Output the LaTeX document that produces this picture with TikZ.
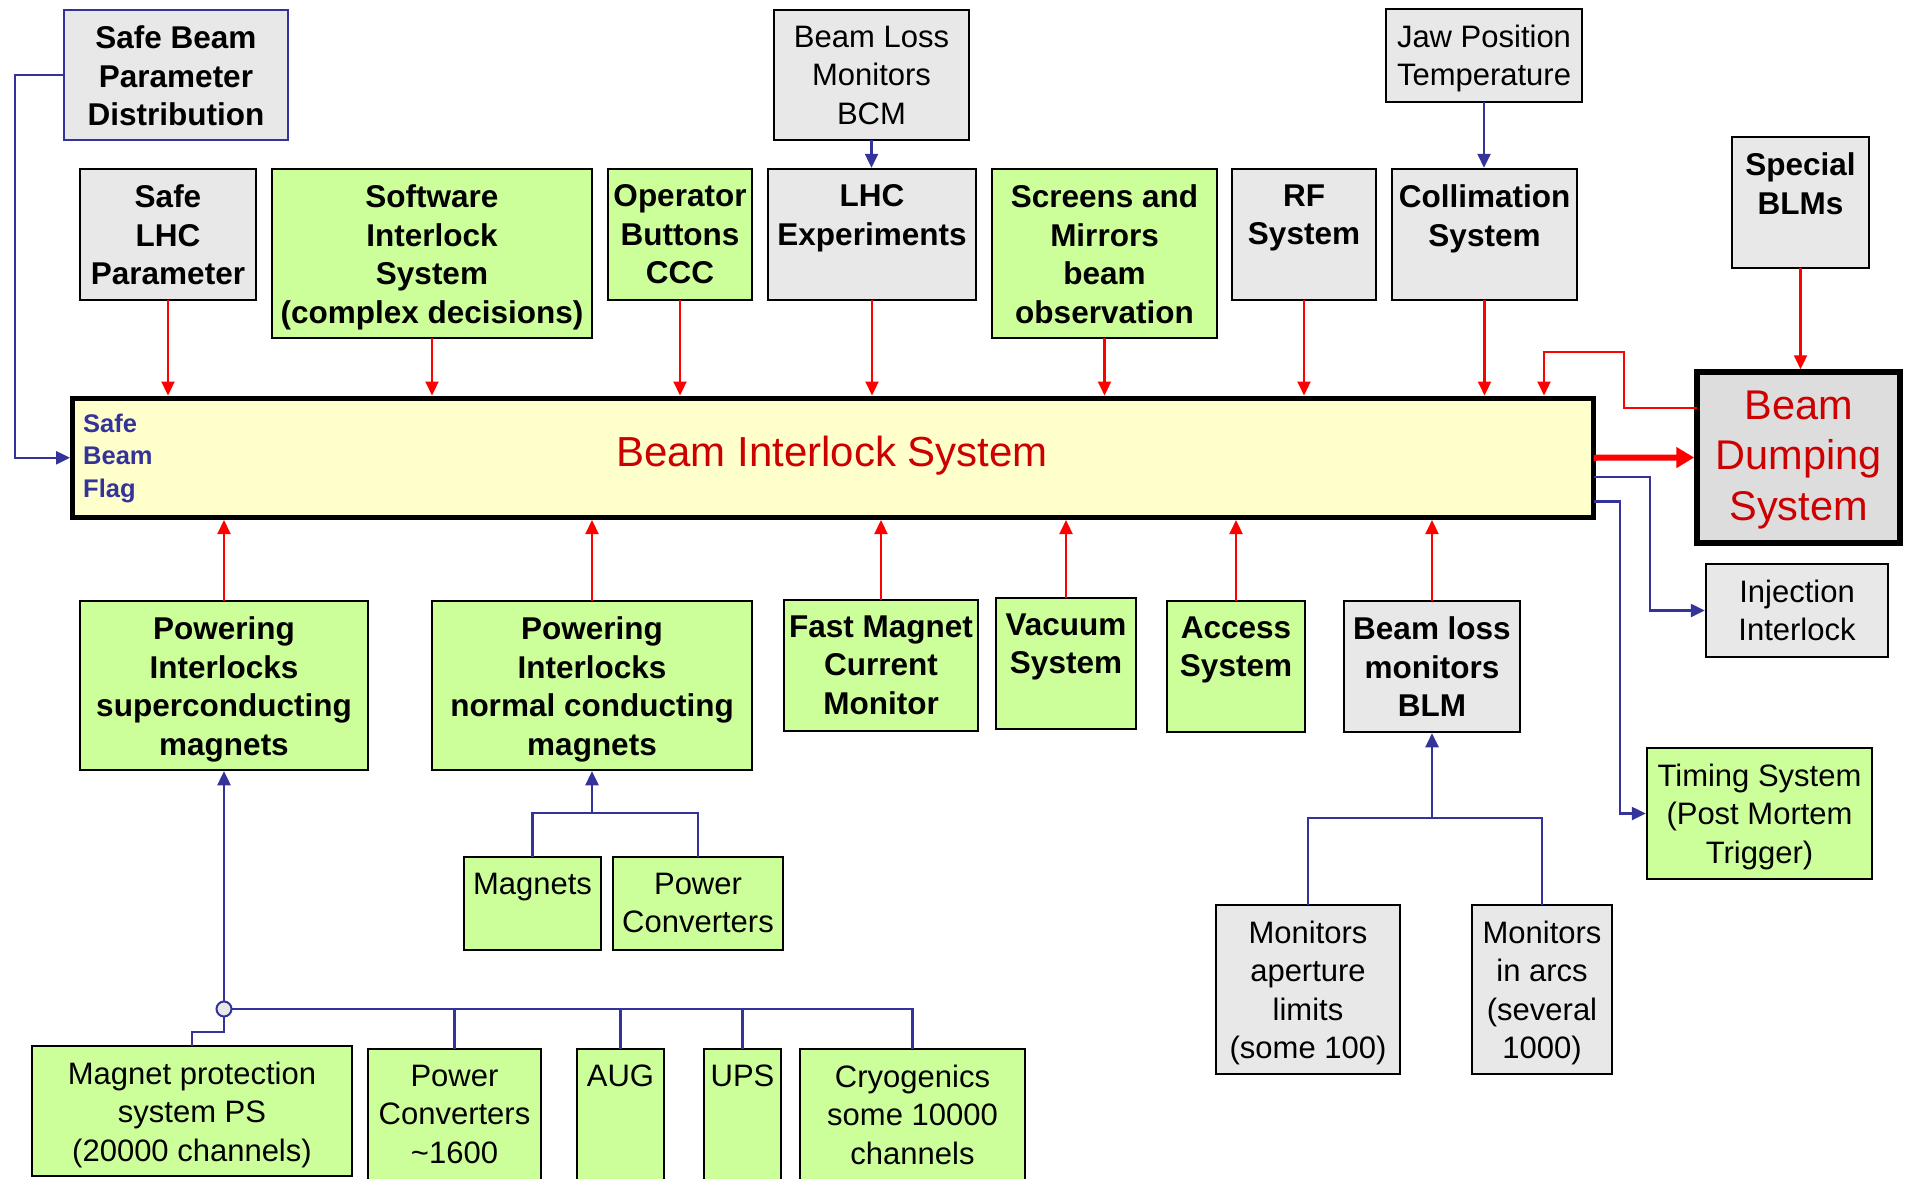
\documentclass[tikz,border=0pt]{standalone}
\usepackage{fontspec}
\setmainfont{Liberation Sans}
\usetikzlibrary{arrows.meta}
\definecolor{grn}{HTML}{CCFF99}
\definecolor{gry}{HTML}{E8E8E8}
\definecolor{ylw}{HTML}{FFFFCC}
\definecolor{dmp}{HTML}{DDDDDD}
\definecolor{blu}{HTML}{333399}
\definecolor{dred}{HTML}{CC0000}
\definecolor{rd}{HTML}{FF0000}
\newcommand\bx[8]{%
  \node[#1, minimum width={(#5)-(#3)}, minimum height={(#6)-(#4)}] (#2) at ({((#3)+(#5))/2},{((#4)+(#6))/2}) {};
  \node[#7, anchor=north] (#2t) at ([yshift=-15.5pt]#2.north) {#8};}
\tikzset{
  boxbase/.style={line width=2.5pt, inner sep=0pt, outer sep=0pt, rectangle},
  gbox/.style={boxbase, draw=black, fill=grn},
  ybox/.style={boxbase, draw=black, fill=gry},
  bbox/.style={boxbase, draw=blu, fill=gry},
  bt/.style={font=\fontsize{31.5}{38.5}\selectfont\bfseries, align=center, inner sep=0pt},
  rt/.style={font=\fontsize{31}{38.5}\selectfont, align=center, inner sep=0pt},
  rarr/.style={draw=rd, line width=2.2pt, -{Triangle[length=14pt,width=13pt]}},
  barr/.style={draw=blu, line width=2.5pt, -{Triangle[length=14pt,width=13pt]}},
  bln/.style={draw=blu, line width=2.5pt},
  fatarr/.style={draw=rd, line width=6pt, -{Triangle[length=18pt,width=20pt]}},
  hubst/.style={circle, draw=blu, line width=2pt, fill=gry, minimum size=15pt, inner sep=0pt, outer sep=0pt},
}
\begin{document}
\begin{tikzpicture}[x=1pt,y=-1pt]
\useasboundingbox (0,0) rectangle (1905,1178);
\clip (0,0) rectangle (1905,1178);
\fill[white] (0,0) rectangle (1905,1178);

% main bars
\node[draw=black, fill=ylw, line width=5pt, inner sep=0pt, outer sep=0pt, minimum width=1521pt, minimum height=119.5pt] (bis) at (833,457.75) {};
\node[font=\fontsize{42}{50}\selectfont, text=dred, anchor=base, inner sep=0pt] (bist) at (832,466) {Beam Interlock System};
\node[font=\fontsize{25.5}{32.5}\selectfont\bfseries, text=blu, align=left, anchor=north west, inner sep=0pt] (sbf) at (83,413.5) {Safe\\Beam\\Flag};
\node[draw=black, fill=dmp, line width=5.5pt, inner sep=0pt, outer sep=0pt, minimum width=203pt, minimum height=171pt] (bds) at (1798.5,457.5) {};
\node[font=\fontsize{41.5}{50.5}\selectfont, text=dred, align=center, anchor=north, inner sep=0pt] (bdst) at ([yshift=-18.5pt]bds.north) {Beam\\Dumping\\System};

% top boxes
\bx{bbox}{sbpd}{64}{10}{288}{140}{bt}{Safe Beam\\Parameter\\Distribution}
\bx{ybox}{bcm}{774}{10}{969}{140}{rt}{Beam Loss\\Monitors\\BCM}
\bx{ybox}{jaw}{1386}{9}{1582}{102}{rt}{Jaw Position\\Temperature}
\bx{ybox}{slhc}{80}{169}{256}{300}{bt}{Safe\\LHC\\Parameter}
\bx{gbox}{sis}{272}{169}{592}{338}{bt}{Software\\Interlock\\System\\(complex decisions)}
\bx{gbox}{opb}{608}{169}{752}{300}{bt}{Operator\\Buttons\\CCC}
\bx{ybox}{lhce}{768}{169}{976}{300}{bt}{LHC\\Experiments}
\bx{gbox}{scr}{992}{169}{1217}{338}{bt}{Screens and\\Mirrors\\beam\\observation}
\bx{ybox}{rf}{1232}{169}{1376}{300}{bt}{RF\\System}
\bx{ybox}{col}{1392}{169}{1577}{300}{bt}{Collimation\\System}
\bx{ybox}{sblm}{1732}{137}{1869}{268}{bt}{Special\\BLMs}

% lower boxes
\bx{gbox}{pis}{80}{601}{368}{770}{bt}{Powering\\Interlocks\\superconducting\\magnets}
\bx{gbox}{pin}{432}{601}{752}{770}{bt}{Powering\\Interlocks\\normal conducting\\magnets}
\bx{gbox}{fmc}{784}{600}{978}{731}{bt}{Fast Magnet\\Current\\Monitor}
\bx{gbox}{vac}{996}{598}{1136}{729}{bt}{Vacuum\\System}
\bx{gbox}{acc}{1167}{601}{1305}{732}{bt}{Access\\System}
\bx{ybox}{blm}{1344}{601}{1520}{732}{bt}{Beam loss\\monitors\\BLM}
\bx{ybox}{inj}{1706}{564}{1888}{657}{rt}{Injection\\Interlock}
\bx{gbox}{tim}{1647}{748}{1872}{879}{rt}{Timing System\\(Post Mortem\\Trigger)}
\bx{gbox}{mag}{464}{857}{601}{950}{rt}{Magnets}
\bx{gbox}{pca}{613}{857}{783}{950}{rt}{Power\\Converters}
\bx{ybox}{mona}{1216}{905}{1400}{1074}{rt}{Monitors\\aperture\\limits\\(some 100)}
\bx{ybox}{monb}{1472}{905}{1612}{1074}{rt}{Monitors\\in arcs\\(several\\1000)}
\bx{gbox}{mp}{32}{1046}{352}{1176}{rt}{Magnet protection\\system PS\\(20000 channels)}
\bx{gbox}{pcb}{368}{1049}{541}{1195}{rt}{Power\\Converters\\\textasciitilde1600}
\bx{gbox}{aug}{577}{1049}{664}{1195}{rt}{AUG}
\bx{gbox}{ups}{704}{1049}{781}{1195}{rt}{UPS}
\bx{gbox}{cryo}{800}{1049}{1025}{1195}{rt}{Cryogenics\\some 10000\\channels}

% red arrows into BIS from above
\foreach \n in {slhc,sis,opb,lhce,scr,rf,col}
  \draw[rarr, shorten >=2.5pt] (\n.south) -- (\n.south |- bis.north);
% red arrows into BIS from below
\foreach \n in {pis,pin,fmc,vac,acc,blm}
  \draw[rarr, shorten >=2.5pt] (\n.north) -- (\n.north |- bis.south);
% special BLMs to BDS
\draw[rarr, shorten >=2.75pt] (sblm.south) -- (sblm.south |- bds.north);
% fat arrow BIS -> BDS
\draw[fatarr, shorten >=2.75pt] (bis.east) -- (bds.west);
% feedback BDS -> BIS
\coordinate (fba) at (1624,352);
\coordinate (fbb) at (1544,352);
\draw[rarr, shorten >=2.5pt] ([yshift=49.5pt]bds.west) -| (fba) -- (fbb) -- (fbb |- bis.north);

% blue connectors
\draw[barr, shorten >=1.25pt] (bcm.south) -- (bcm.south |- lhce.north);
\draw[barr, shorten >=1.25pt] (jaw.south) -- (jaw.south |- col.north);
\coordinate (sbl) at (15,75);
\draw[barr, shorten >=2.5pt] (sbpd.west) -- (sbl) |- (bis.west);
\coordinate (ibend) at (1650,477);
\draw[barr, shorten >=1.25pt] ([yshift=-19.25pt]bis.east) -- (ibend) |- (inj.west);
\coordinate (tbend) at (1620,501.25);
\draw[barr, shorten >=1.25pt] ([yshift=-43.5pt]bis.east) -- (tbend) |- (tim.west);
\coordinate (jn) at (592,813);
\draw[bln] (mag.north) |- (jn) -| (pca.north);
\draw[barr, shorten >=1.25pt] (jn) -- (pin.south);
\coordinate (jb) at (1432,818);
\draw[bln] (mona.north) |- (jb) -| (monb.north);
\draw[barr, shorten >=1.25pt] (jb) -- (blm.south);
% bottom bus
\coordinate (hubc) at (224,1009);
\coordinate (bend) at (cryo.north |- hubc);
\draw[bln] (hubc) -- (bend) -- (cryo.north);
\foreach \n in {pcb,aug,ups}
  \draw[bln] (\n.north |- bend) -- (\n.north);
\coordinate (mpj) at (224,1032);
\draw[bln] (hubc) -- (mpj) -| (mp.north);
\node[hubst] (hub) at (hubc) {};
\draw[barr, shorten >=1.25pt] (hub.north) -- (pis.south);
\end{tikzpicture}
\end{document}
